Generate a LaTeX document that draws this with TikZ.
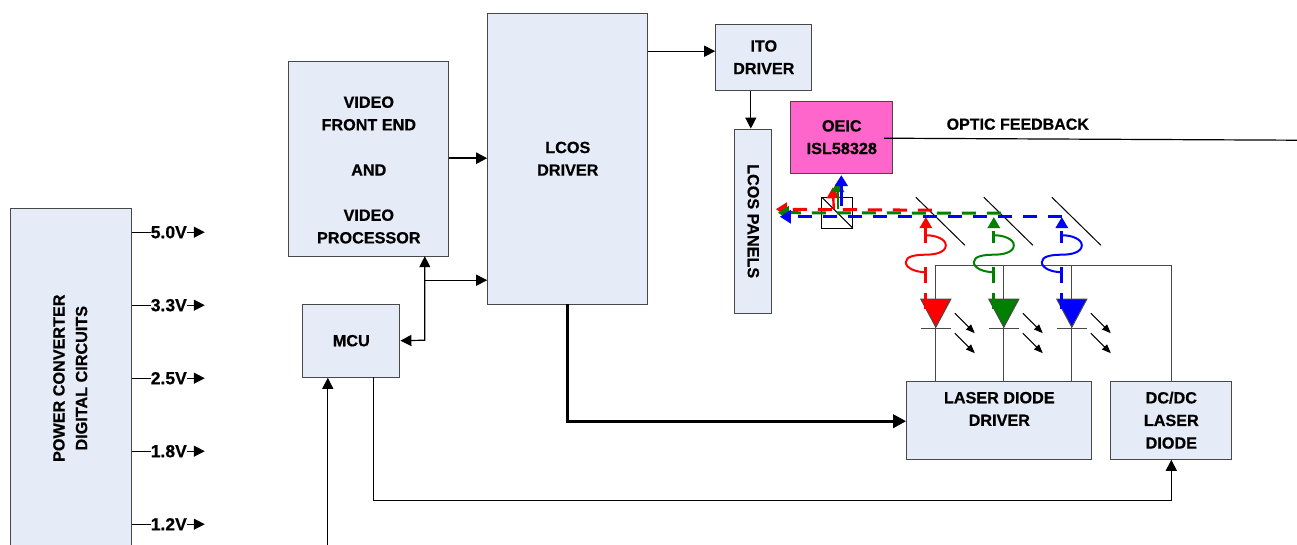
\documentclass[tikz,border=0pt]{standalone}
\usepackage{fontspec}
\setmainfont[BoldFeatures={FakeBold=0.6}]{Liberation Sans}
\usetikzlibrary{arrows.meta,calc}
\definecolor{boxfill}{HTML}{E6ECF7}
\definecolor{boxline}{HTML}{484848}
\definecolor{pinkfill}{HTML}{FF66CC}
\definecolor{ledgreen}{HTML}{008000}
\tikzset{
  x=1pt,y=-1pt,
  box/.style={draw=boxline,line width=1.2pt,fill=boxfill,inner sep=0pt,align=center,font=\fontsize{16.2}{22.6}\selectfont\bfseries},
  lbl/.style={inner sep=0pt,font=\fontsize{16}{22}\selectfont\bfseries},
  vlbl/.style={inner sep=0pt,font=\fontsize{17.5}{22}\selectfont\bfseries},
  conn/.style={black,line width=1.2pt,-{Triangle[length=11pt,width=11pt]}},
  plain/.style={black,line width=1.2pt},
  rail/.style={boxline,line width=1.3pt},
  mirrorline/.style={black,line width=1pt},
  beam/.style={line width=3pt,dash pattern=on 14pt off 11pt,-{Triangle[length=11pt,width=13pt]}},
  beamsolid/.style={line width=2.4pt,-{Triangle[length=11pt,width=13pt]}},
  loopline/.style={line width=2pt},
  stub/.style={line width=3pt},
  emit/.style={black,line width=1pt,-{Triangle[length=9pt,width=7pt]}},
  bar/.style={boxline,line width=1.2pt}
}
\newcommand{\diode}[2]{%
  \fill[#2,draw=boxline,line width=1pt] (#1-15,299) -- (#1+15,299) -- (#1,327) -- cycle;
  \draw[bar] (#1-15,328) -- (#1+15,328);
  \draw[emit] (#1+19,313) -- (#1+39,333);
  \draw[emit] (#1+19,333) -- (#1+39,353);
}
\newcommand{\squig}[3]{%
  \draw[stub,#2] (#1,267) -- (#1,283);
  \draw[stub,#2] (#1,293) -- (#1,309);
  \draw[loopline,#2] (#1,272) .. controls (#1-10,272) and (#1-20,268) .. (#1-20,262)
     .. controls (#1-20,256) and (#1-10,254.5) .. (#1,254.5)
     .. controls (#1+10,254.5) and (#1+20,252) .. (#1+20,245)
     .. controls (#1+20,239) and (#1+10,235) .. (#1,235);
  \draw[stub,#2] (#1,#3) -- (#1,243);
  \fill[#2] (#1,217) -- (#1+6.5,228) -- (#1-6.5,228) -- cycle;
}
\begin{document}
\begin{tikzpicture}
\useasboundingbox (0.2,-0.2) rectangle (1297.2,543.8);
% boxes
\node[box,minimum width=121pt,minimum height=340pt] (power) at (71.5,378) {\rotatebox{90}{\begin{tabular}{@{}c@{}}POWER CONVERTER\\DIGITAL CIRCUITS\end{tabular}}};
\node[box,minimum width=160pt,minimum height=195pt] (video) at (369,158.5) {~\\[11.3pt]VIDEO\\FRONT END\\~\\AND\\~\\VIDEO\\PROCESSOR};
\node[box,minimum width=160pt,minimum height=291pt] (lcos) at (568,158.5) {LCOS\\DRIVER};
\node[box,minimum width=96pt,minimum height=66pt] (ito) at (764,57) {ITO\\DRIVER};
\node[box,minimum width=37pt,minimum height=184pt] (panels) at (753.5,221) {\rotatebox{-90}{LCOS PANELS}};
\node[box,fill=pinkfill,minimum width=102pt,minimum height=72pt] (oeic) at (842,137) {OEIC\\ISL58328};
\node[box,minimum width=97pt,minimum height=73pt] (mcu) at (351.5,340.5) {MCU};
\node[box,minimum width=185pt,minimum height=78pt] (ldd) at (999.5,420) {LASER DIODE\\DRIVER\\~};
\node[box,minimum width=121pt,minimum height=78pt] (dcdc) at (1171.5,420) {DC/DC\\LASER\\DIODE};
\node[lbl] (optic) at (1018,124) {OPTIC FEEDBACK};
% voltages
\foreach \v/\yy/\n in {5.0V/232/a,3.3V/305/b,2.5V/378/c,1.8V/451/d,1.2V/524/e}{
  \node[vlbl] (v\n) at (169,\yy) {\v};
  \coordinate (t\n) at (205,\yy);
  \draw[plain] (power.east |- v\n) -- (v\n.west);
  \draw[conn] (v\n.east) -- (t\n);
}
% connectors
\draw[conn] ([yshift=6pt]ito.west -| lcos.east) -- ([yshift=6pt]ito.west);
\draw[conn] ([xshift=-13pt]ito.south) -- ([xshift=-2.5pt]panels.north);
\draw[line width=2.2pt,-{Triangle[length=11pt,width=11pt]}] (video.east |- 0,158) -- (lcos.west |- 0,158);
\coordinate (busJ) at (425,280);
\draw[plain,{Triangle[length=11pt,width=11pt]}-{Triangle[length=11pt,width=11pt]}] (425,256) -- (425,340) -- (mcu.east);
\draw[conn] (busJ) -- (lcos.west |- busJ);
\coordinate (mcuin) at (328,544.5);
\draw[conn] (mcuin) -- (mcuin |- mcu.south);
\draw[conn] (374,377) -- (374,500) -| (dcdc.south);
\draw[line width=3.2pt,-{Triangle[length=13pt,width=13pt]}] (568,304) -- (568,421) -- (ldd.west |- 0,421);
\coordinate (fbend) at (1297.5,140);
\draw[plain] (884,138) -- (fbend);
% laser rail
\draw[rail] (936,381) -- (936,265) -- (1172,265) -- (1172,381);
\draw[rail] (1004,265) -- (1004,381);
\draw[rail] (1072,265) -- (1072,381);
\diode{936}{red}
\diode{1004}{ledgreen}
\diode{1072}{blue}
\squig{926}{red}{228}
\squig{994}{ledgreen}{231}
\squig{1062}{blue}{231}
% mirrors
\draw[mirrorline] (916,197) -- (965,245);
\draw[mirrorline] (984,197) -- (1033,245);
\draw[mirrorline] (1052,197) -- (1101,245);
% splitter
\draw[black,line width=1.1pt] (822,197) rectangle (853,228);
\draw[black,line width=1.1pt] (822,197) -- (853,228);
% beams
\draw[beam,red] (932,210) -- (776,209);
\draw[beam,ledgreen] (1001,213) -- (778,212.5);
\draw[beam,blue] (1062,216.5) -- (780,216.5);
\draw[beamsolid,red] (834,209) -- (833,187);
\draw[beamsolid,ledgreen] (838,209) -- (838,181);
\draw[beamsolid,blue] (841.5,206) -- (841.5,175);
\end{tikzpicture}
\end{document}
